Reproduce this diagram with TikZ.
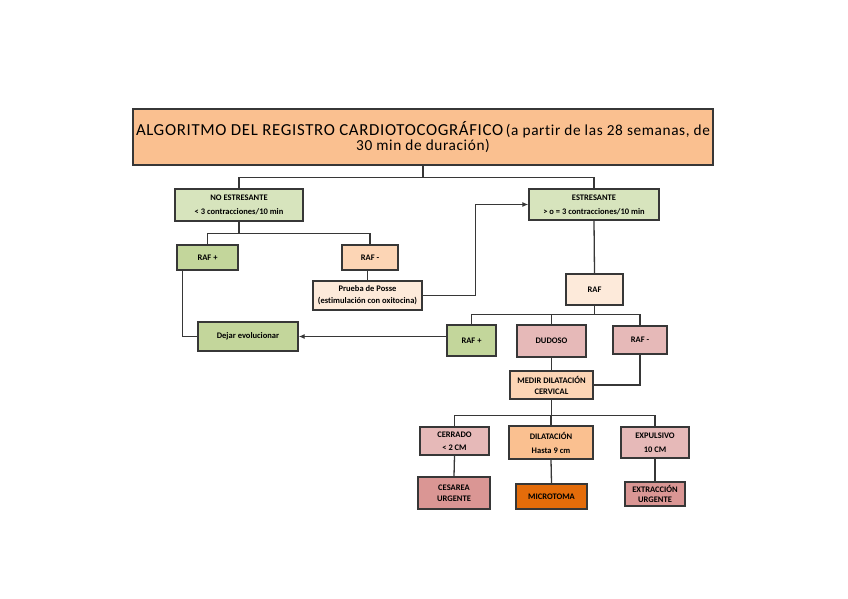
\documentclass[tikz,border=0pt]{standalone}
\usepackage{fontspec}
\setmainfont{Carlito}[Ligatures=NoCommon]
\usetikzlibrary{positioning, arrows.meta}
\definecolor{ctgorange}{RGB}{250, 192, 144}
\definecolor{ctgpeach}{RGB}{252, 213, 181}
\definecolor{ctgcream}{RGB}{253, 234, 218}
\definecolor{ctglgreen}{RGB}{215, 228, 189}
\definecolor{ctggreen}{RGB}{195, 214, 155}
\definecolor{ctgrose}{RGB}{230, 185, 184}
\definecolor{ctgdrose}{RGB}{218, 150, 148}
\definecolor{ctgdark}{RGB}{228, 108, 10}
\definecolor{ctgline}{RGB}{55, 55, 55}
\tikzset{
    box/.style={draw=ctgline, line width=1.4pt, inner sep=1pt, align=center,
        font=\fontsize{8.5}{14}\selectfont\bfseries},
    greenbox/.style={box, fill=ctglgreen},
    raf/.style={box, fill=ctggreen},
    peachbox/.style={box, fill=ctgpeach},
    creambox/.style={box, fill=ctgcream},
    rosebox/.style={box, fill=ctgrose},
    link/.style={draw=ctgline, line width=1.3pt},
    arrow/.style={link, -{Latex[length=6pt, width=5pt]}}
}
\begin{document}
\begin{tikzpicture}[x=1pt, y=-1pt]
    \useasboundingbox (0,0) rectangle (848,599);
    % title
    \node[box, fill=ctgorange, minimum width=580pt, minimum height=56pt,
        font=\addfontfeature{LetterSpace=4}]
        (title) at (423,137)
        {{\fontsize{16.8}{18}\selectfont ALGORITMO DEL REGISTRO CARDIOTOCOGR\'AFICO}
         {\fontsize{15.3}{18}\selectfont (a partir de las 28 semanas, de}\\
         {\fontsize{15.3}{18}\selectfont 30 min de duraci\'on)}};
    % first level
    \node[greenbox, minimum width=128pt, minimum height=32pt] (noest) at (239,205)
        {NO ESTRESANTE\\ < 3 contracciones/10 min};
    \node[greenbox, minimum width=130pt, minimum height=31pt] (est) at (594,204.5)
        {ESTRESANTE\\ > o = 3 contracciones/10 min};
    % no estresante branch
    \node[raf, minimum width=61pt, minimum height=25pt] (rafpA) at (207.5,257.5) {RAF +};
    \node[peachbox, minimum width=56pt, minimum height=25pt] (rafnA) at (370,257.5) {RAF -};
    \node[creambox, minimum width=109pt, minimum height=29pt] (posse) at (367.5,295.5)
        {Prueba de Posse\\[-2pt] (estimulaci\'on con oxitocina)};
    \node[raf, minimum width=100pt, minimum height=29pt] (dejar) at (248,336.5) {Dejar evolucionar};
    % estresante branch
    \node[creambox, minimum width=57pt, minimum height=31pt] (rafE) at (594.5,289.5) {RAF};
    \node[raf, minimum width=49pt, minimum height=31pt] (rafpB) at (471.5,340.5) {RAF +};
    \node[rosebox, minimum width=69pt, minimum height=32pt] (dudoso) at (551.5,341) {DUDOSO};
    \node[rosebox, minimum width=54pt, minimum height=28pt] (rafnB) at (640,340) {RAF -};
    \node[peachbox, minimum width=83pt, minimum height=28pt] (medir) at (551.5,385)
        {MEDIR DILATACI\'ON\\[-3pt] CERVICAL};
    % dilatacion
    \node[rosebox, minimum width=69pt, minimum height=28pt] (cerrado) at (454.5,441)
        {CERRADO\\[-1pt] < 2 CM};
    \node[box, fill=ctgorange, minimum width=84pt, minimum height=33pt] (dilat) at (551,442.5)
        {DILATACI\'ON\\ Hasta 9 cm};
    \node[rosebox, minimum width=68pt, minimum height=31pt] (expul) at (655,442.5)
        {EXPULSIVO\\ 10 CM};
    \node[box, fill=ctgdrose, minimum width=72pt, minimum height=32pt] (cesarea) at (454,493)
        {CESAREA\\[-3pt] URGENTE};
    \node[box, fill=ctgdark, minimum width=71pt, minimum height=25pt] (micro) at (551.5,496.5)
        {MICROTOMA};
    \node[box, fill=ctgdrose, minimum width=60pt, minimum height=24pt] (extrac) at (655,494)
        {EXTRACCI\'ON\\[-4pt] URGENTE};
    % connectors
    \draw[link] (title.south) -- ++(0,12) -| (noest.north);
    \draw[link] (title.south) -- ++(0,12) -| (est.north);
    \draw[link] (noest.south) -- ++(0,12) -| (rafpA.north);
    \draw[link] (noest.south) -- ++(0,12) -| (rafnA.north);
    \draw[link] (rafnA.south -| posse.north) -- (posse.north);
    \draw[link] ([xshift=6pt]rafpA.south west) |- (dejar.west);
    \draw[arrow] (posse.east) -- ++(53,0) |- (est.west);
    \draw[link] (est.south) -- (rafE.north);
    \draw[link] (rafE.south) -- ++(0,9) -| (rafpB.north);
    \draw[link] (rafE.south) -- ++(0,9) -| (dudoso.north);
    \draw[link] (rafE.south) -- ++(0,9) -| (rafnB.north);
    \draw[arrow] (rafpB.west |- dejar.east) -- (dejar.east);
    \draw[link] (dudoso.south) -- (medir.north);
    \draw[link] (rafnB.south) |- (medir.east);
    \draw[link] (medir.south) -- ++(0,16) -| (cerrado.north);
    \draw[link] (medir.south) -- ++(0,16) -| (dilat.north);
    \draw[link] (medir.south) -- ++(0,16) -| (expul.north);
    \draw[link] (cerrado.south) -- (cesarea.north);
    \draw[link] (dilat.south) -- (micro.north);
    \draw[link] (expul.south) -- (extrac.north);
\end{tikzpicture}
\end{document}
